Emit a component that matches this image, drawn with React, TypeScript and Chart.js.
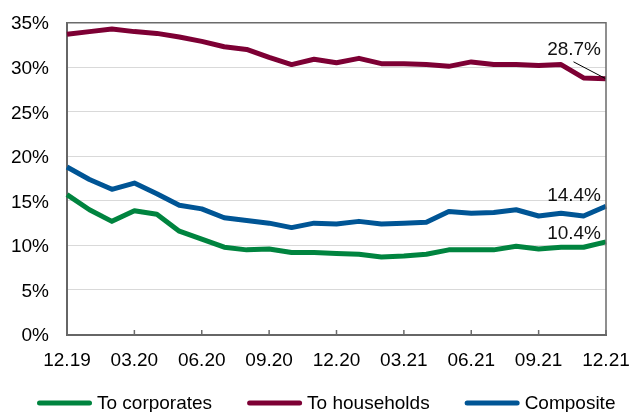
import React, { useEffect, useRef } from "react";
import { Chart, registerables } from "chart.js";

Chart.register(...registerables);

const months = [
  "12.19", "01.20", "02.20", "03.20", "04.20", "05.20", "06.20", "07.20", "08.20",
  "09.20", "10.20", "11.20", "12.20", "01.21", "02.21", "03.21", "04.21", "05.21",
  "06.21", "07.21", "08.21", "09.21", "10.21", "11.21", "12.21",
];

const corporates = [
  15.7, 14.0, 12.7, 13.9, 13.5, 11.6, 10.7, 9.8, 9.5, 9.6, 9.2, 9.2, 9.1,
  9.0, 8.7, 8.8, 9.0, 9.5, 9.5, 9.5, 9.9, 9.6, 9.8, 9.8, 10.4,
];

const households = [
  33.7, 34.0, 34.3, 34.0, 33.8, 33.4, 32.9, 32.3, 32.0, 31.1, 30.3, 30.9, 30.5,
  31.0, 30.4, 30.4, 30.3, 30.1, 30.6, 30.3, 30.3, 30.2, 30.3, 28.8, 28.7,
];

const composite = [
  18.8, 17.4, 16.3, 17.0, 15.8, 14.5, 14.1, 13.1, 12.8, 12.5, 12.0, 12.5, 12.4,
  12.7, 12.4, 12.5, 12.6, 13.8, 13.6, 13.7, 14.0, 13.3, 13.6, 13.3, 14.4,
];

const seriesNames = ["To corporates", "To households", "Composite"];
const seriesColors = ["#00843f", "#7d0034", "#005595"];

const FONT = "'Liberation Sans', Arial, sans-serif";
const FONT_SIZE = 19;

// label offsets (style only): [dx, dy] from the last point
const endLabelOffsets = [
  [-5, -2.5],
  [-5, -24],
  [-5, -5],
];

const framePlugin = {
  id: "frame",
  afterDraw(chart: any) {
    const { ctx, chartArea } = chart;
    const xScale = chart.scales.x;
    ctx.save();
    ctx.strokeStyle = "#6b6b6b";
    ctx.lineWidth = 1.5;
    ctx.beginPath();
    ctx.moveTo(chartArea.left, chartArea.top);
    ctx.lineTo(chartArea.right, chartArea.top);
    ctx.lineTo(chartArea.right, chartArea.bottom);
    ctx.stroke();
    for (let i = 0; i < months.length; i += 3) {
      const x = xScale.getPixelForValue(i);
      ctx.beginPath();
      ctx.moveTo(x, chartArea.bottom);
      ctx.lineTo(x, chartArea.bottom - 4.5);
      ctx.stroke();
    }
    ctx.restore();
  },
};

const endLabelPlugin = {
  id: "endLabels",
  afterDatasetsDraw(chart: any) {
    const { ctx } = chart;
    ctx.save();
    ctx.font = `${FONT_SIZE}px ${FONT}`;
    ctx.fillStyle = "#111";
    ctx.textAlign = "right";
    ctx.textBaseline = "alphabetic";
    chart.data.datasets.forEach((ds: any, i: number) => {
      const meta = chart.getDatasetMeta(i);
      const last = meta.data[meta.data.length - 1];
      const v = ds.data[ds.data.length - 1];
      const [dx, dy] = endLabelOffsets[i];
      ctx.fillText(v.toFixed(1) + "%", last.x + dx, last.y + dy);
      if (i === 1) {
        ctx.strokeStyle = "#000";
        ctx.lineWidth = 1;
        ctx.beginPath();
        ctx.moveTo(last.x, last.y);
        ctx.lineTo(last.x - 32.5, last.y - 17);
        ctx.stroke();
      }
    });
    ctx.restore();
  },
};

const legendPlugin = {
  id: "customLegend",
  afterDraw(chart: any) {
    const { ctx } = chart;
    ctx.save();
    ctx.font = `${FONT_SIZE}px ${FONT}`;
    ctx.textAlign = "left";
    ctx.textBaseline = "alphabetic";
    let x = 37;
    const yLine = chart.height - 9;
    const yText = chart.height - 3;
    chart.data.datasets.forEach((ds: any) => {
      ctx.strokeStyle = ds.borderColor;
      ctx.lineWidth = 5;
      ctx.lineCap = "round";
      ctx.beginPath();
      ctx.moveTo(x + 2.5, yLine);
      ctx.lineTo(x + 52.5, yLine);
      ctx.stroke();
      ctx.fillStyle = "#000";
      const tx = x + 60;
      ctx.fillText(ds.label, tx, yText);
      x = tx + ctx.measureText(ds.label).width + 35;
    });
    ctx.restore();
  },
};

export default function App() {
  const ref = useRef<HTMLCanvasElement | null>(null);

  useEffect(() => {
    if (!ref.current) return;
    Chart.defaults.font.family = FONT;
    Chart.defaults.font.size = FONT_SIZE;
    Chart.defaults.color = "#000";
    const chart = new Chart(ref.current, {
      type: "line",
      data: {
        labels: months,
        datasets: [corporates, households, composite].map((d, i) => ({
          label: seriesNames[i],
          data: d,
          borderColor: seriesColors[i],
          backgroundColor: seriesColors[i],
          borderWidth: 5,
          pointRadius: 0,
          tension: 0,
          borderJoinStyle: "round" as const,
        })),
      },
      options: {
        animation: false,
        responsive: false,
        devicePixelRatio: 1,
        layout: { padding: { left: 11, right: 27, top: 22.7, bottom: 39.7 } },
        plugins: {
          legend: { display: false },
          tooltip: { enabled: false },
        },
        scales: {
          x: {
            offset: false,
            grid: { display: false, drawTicks: false },
            border: { display: true, color: "#666", width: 2 },
            ticks: {
              autoSkip: false,
              maxRotation: 0,
              padding: 15,
              callback: (_v: any, idx: number) => (idx % 3 === 0 ? months[idx] : ""),
            },
            afterFit: (scale: any) => {
              scale.height = 37.8;
              scale.paddingLeft = 0;
              scale.paddingRight = 0;
            },
          },
          y: {
            min: 0,
            max: 35,
            grid: { color: "#d9d9d9", lineWidth: 1, drawTicks: false },
            border: { display: true, color: "#666", width: 2 },
            ticks: {
              stepSize: 5,
              padding: 18,
              labelOffset: 1.5,
              callback: (v: any) => v + "%",
            },
            afterFit: (scale: any) => {
              scale.width = 56;
              scale.paddingTop = 0;
              scale.paddingBottom = 0;
            },
          },
        },
      },
      plugins: [framePlugin, endLabelPlugin, legendPlugin],
    });
    return () => chart.destroy();
  }, []);

  return (
    <div style={{ position: "fixed", left: 0, top: 0, width: 633, height: 412, background: "#fff" }}>
      <canvas ref={ref} width={633} height={412} />
    </div>
  );
}
